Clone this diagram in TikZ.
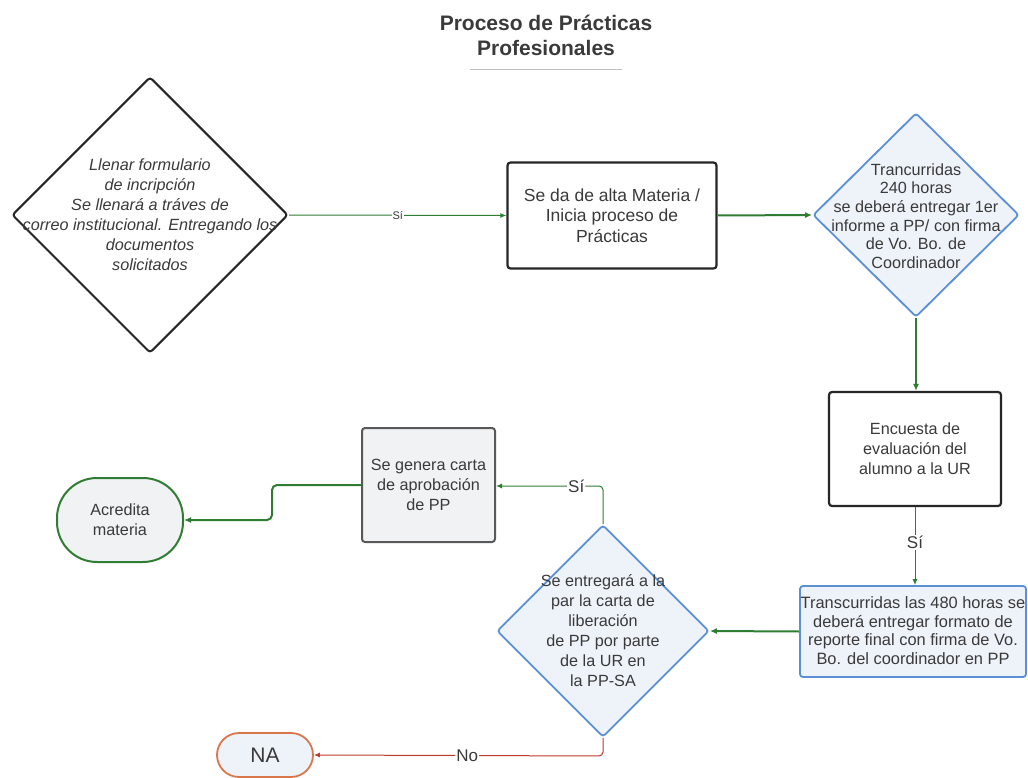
\documentclass[tikz,border=0pt]{standalone}
\usepackage{fontspec}
\setmainfont{Liberation Sans}
\usetikzlibrary{shapes.geometric,arrows.meta}
\definecolor{txt}{HTML}{3A3A3A}
\definecolor{gline}{HTML}{2E7D32}
\definecolor{rline}{HTML}{C0392B}
\definecolor{bstroke}{HTML}{5B8FD6}
\definecolor{bfill}{HTML}{EEF3FA}
\definecolor{gfill}{HTML}{F1F2F4}
\definecolor{nastroke}{HTML}{D9774A}
\begin{document}
\begin{tikzpicture}[x=1pt,y=-1pt,
  every node/.style={text=txt},
  boxtext/.style={font=\fontsize{16.2}{20}\selectfont, align=center},
  dtext/.style={font=\fontsize{16.2}{18.6}\selectfont, align=center},
  blackbox/.style={draw=black!85, line width=2.2pt, rounded corners=3pt, fill=white, inner sep=0pt},
  bluebox/.style={draw=bstroke, line width=1.8pt, rounded corners=3pt, fill=bfill, inner sep=0pt},
  graybox/.style={draw=black!65, line width=2pt, rounded corners=3pt, fill=gfill, inner sep=0pt},
  blackdia/.style={diamond, draw=black!85, line width=2pt, rounded corners=3pt, fill=white, inner sep=0pt},
  bluedia/.style={diamond, draw=bstroke, line width=1.8pt, rounded corners=3pt, fill=bfill, inner sep=0pt},
  thinarrow/.style={draw=gline, line width=1pt, -{Latex[length=6pt,width=5pt]}},
  thickarrow/.style={draw=gline, line width=2pt, -{Latex[length=7pt,width=6pt]}},
  redarrow/.style={draw=rline, line width=1pt, -{Latex[length=6pt,width=5pt]}},
  edgelabel/.style={fill=white, inner sep=1pt, font=\fontsize{17}{18}\selectfont, text=txt}
]
\useasboundingbox (0,0) rectangle (1028,778);
\fill[white] (0,0) rectangle (1028,778);

% title
\node[font=\fontsize{21}{25}\selectfont\bfseries, align=center] (title) at (546,35) {Proceso de Prácticas\\Profesionales};
\draw[black!25, line width=1pt] (470,70) -- (622,70);

% nodes
\node[blackdia, minimum width=276pt, minimum height=276pt] (d1) at (150,215) {};
\node[boxtext, font=\fontsize{16.2}{20}\selectfont\itshape] (d1t) at (150,215) {Llenar formulario\\de incripción\\Se llenará a tráves de\\correo institucional. Entregando los\\documentos\\solicitados};

\node[blackbox, minimum width=209pt, minimum height=106pt] (b1) at (612,215.5) {};
\node[boxtext, font=\fontsize{17.5}{20.5}\selectfont] (b1t) at (b1) {Se da de alta Materia /\\Inicia proceso de\\Prácticas};

\node[bluedia, minimum width=206pt, minimum height=204pt] (d2) at (916,215) {};
\node[dtext] (d2t) at (916,216) {Trancurridas\\240 horas\\se deberá entregar 1er\\informe a PP/ con firma\\de  Vo. Bo. de\\Coordinador};

\node[blackbox, minimum width=172pt, minimum height=114pt] (b2) at (915,449) {};
\node[boxtext] (b2t) at (b2) {Encuesta de\\evaluación del\\alumno a la UR};

\node[bluebox, minimum width=226pt, minimum height=91pt] (b3) at (913,631.5) {};
\node[dtext, font=\fontsize{16.4}{18.7}\selectfont] (b3t) at (913,630.5) {Transcurridas las 480 horas se\\deberá entregar formato de\\reporte final con firma de Vo.\\Bo. del coordinador en PP};

\node[bluedia, minimum width=212pt, minimum height=212pt] (d3) at (603,631) {};
\node[boxtext] (d3t) at (603,631) {Se entregará a la\\par la carta de\\liberación\\de PP por parte\\de la UR en\\la PP-SA};

\node[graybox, minimum width=133pt, minimum height=114pt] (b4) at (428.5,485) {};
\node[boxtext] (b4t) at (b4) {Se genera carta\\de aprobación\\de PP};

\node[draw=gline, line width=2pt, fill=gfill, rounded corners=40pt, minimum width=126pt, minimum height=84pt, inner sep=0pt] (acr) at (120,520) {};
\node[boxtext] (acrt) at (acr) {Acredita\\materia};

\node[draw=nastroke, line width=1.8pt, fill=bfill, rounded corners=22pt, minimum width=96pt, minimum height=44pt, inner sep=0pt] (na) at (265,755) {};
\node[font=\fontsize{21}{22}\selectfont] (nat) at (na) {NA};

% connectors
\draw[thinarrow] (d1.east) -- node[edgelabel, font=\fontsize{11}{12}\selectfont] (l1) {Sí} (b1.west);
\draw[thickarrow] (b1.east) -- (d2.west);
\draw[thickarrow] (d2.south) -- (d2.south |- b2.north);
\draw[thinarrow] (b2.south) -- node[edgelabel, pos=0.45] (l2) {Sí} (b2.south |- b3.north);
\draw[thickarrow] (b3.west) -- (d3.east);
\draw[thinarrow, rounded corners=4pt] (d3.north) -- (603,486) -- node[edgelabel, pos=0.25] (l3) {Sí} (b4.east |- 0,486);
\draw[thickarrow, rounded corners=5pt] (b4.west) -- (272,485) -- (272,520) -- (acr.east);
\draw[redarrow, rounded corners=4pt] (d3.south) -- (603,756) -- node[edgelabel, pos=0.47] (l4) {No} (na.east);
\end{tikzpicture}
\end{document}
